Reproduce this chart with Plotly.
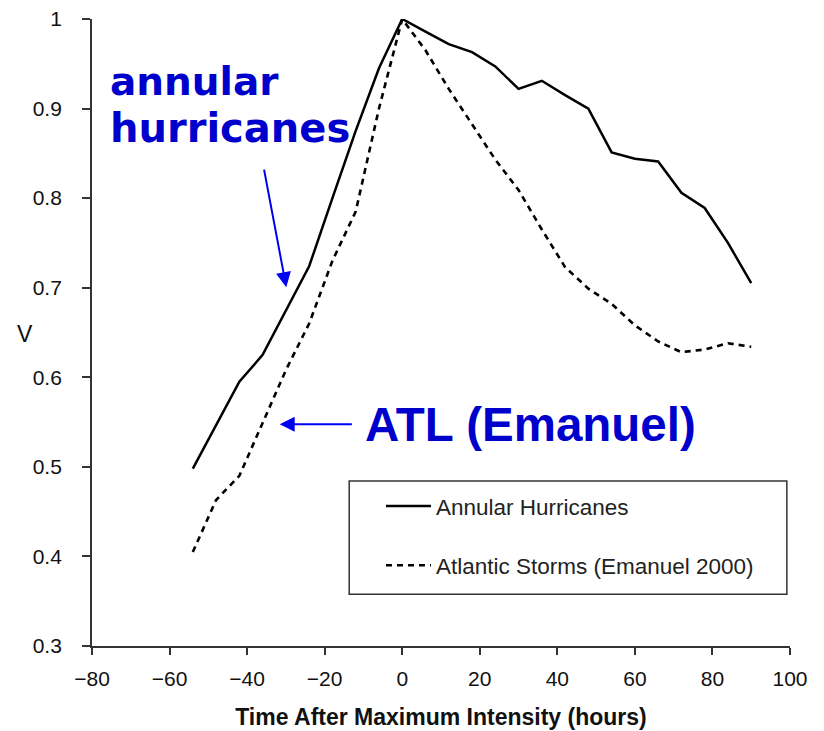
import plotly.graph_objects as go

hours = [-54, -48, -42, -36, -30, -24, -18, -12, -6, 0, 6, 12, 18, 24, 30, 36, 42, 48, 54, 60, 66, 72, 78, 84, 90]
annular = [0.498, 0.547, 0.595, 0.625, 0.675, 0.724, 0.80, 0.875, 0.945, 1.0, 0.986, 0.972, 0.963, 0.947,
           0.922, 0.931, 0.915, 0.90, 0.851, 0.844, 0.841, 0.806, 0.789, 0.75, 0.705]
atlantic = [0.405, 0.463, 0.49, 0.548, 0.608, 0.66, 0.73, 0.785, 0.90, 1.0, 0.965, 0.922, 0.883, 0.843,
            0.809, 0.765, 0.723, 0.699, 0.682, 0.658, 0.64, 0.628, 0.631, 0.638, 0.634]
names = ["Annular Hurricanes", "Atlantic Storms (Emanuel 2000)"]
x_ticks = [-80, -60, -40, -20, 0, 20, 40, 60, 80, 100]
y_ticks = [0.3, 0.4, 0.5, 0.6, 0.7, 0.8, 0.9, 1.0]

FONT = "Liberation Sans, Arial, sans-serif"
AX = "#333333"

fig = go.Figure()
fig.add_trace(go.Scatter(x=hours, y=annular, mode="lines", name=names[0], legendgroup="a",
                         line=dict(color="black", width=2.5)))
fig.add_trace(go.Scatter(x=hours, y=atlantic, mode="lines", name=names[1], legendgroup="b",
                         line=dict(color="black", width=2.6, dash="6px,5px")))

fig.update_layout(
    width=824, height=731,
    margin=dict(l=92, r=34, t=19, b=85, autoexpand=False),
    paper_bgcolor="white", plot_bgcolor="white",
    font=dict(family=FONT, size=20, color="#111111"),
    showlegend=True,
    legend=dict(x=0.414, y=0.257, xanchor="left", yanchor="top",
                bgcolor="rgba(0,0,0,0)", borderwidth=0,
                font=dict(family=FONT, size=22.5, color="#222222"),
                traceorder="grouped", tracegroupgap=27, itemwidth=45),
    xaxis=dict(range=[-80, 100], tickvals=x_ticks, showgrid=False, zeroline=False,
               automargin=False,
               showline=True, linecolor=AX, linewidth=2, ticks="outside", ticklen=7,
               tickcolor=AX, tickwidth=1.5, tickfont=dict(size=21, color="#111111"),
               ticklabelstandoff=6,
               title=dict(text="<b>Time After Maximum Intensity (hours)</b>",
                          font=dict(size=23, color="#111111"), standoff=20)),
    yaxis=dict(range=[0.3, 1.0], tickvals=y_ticks, showgrid=False, zeroline=False,
               automargin=False,
               showline=True, linecolor=AX, linewidth=1.8, ticks="outside", ticklen=8,
               tickcolor=AX, tickwidth=1.5, tickfont=dict(size=21, color="#111111"),
               ticklabelstandoff=16),
    shapes=[dict(type="rect", xref="paper", yref="paper",
                 x0=0.3685, x1=0.9955, y0=0.0824, y1=0.2633,
                 line=dict(color="#333333", width=1.5), fillcolor="rgba(0,0,0,0)")],
)

BLUE_T = "#0000CC"
BLUE_A = "#0000F0"
fig.add_annotation(x=-76.0, y=0.930, xref="x", yref="y", xanchor="left", yanchor="middle",
                   text="<b>annular</b>", showarrow=False,
                   font=dict(family="DejaVu Sans", size=39, color=BLUE_T))
fig.add_annotation(x=-76.0, y=0.878, xref="x", yref="y", xanchor="left", yanchor="middle",
                   text="<b>hurricanes</b>", showarrow=False,
                   font=dict(family="DejaVu Sans", size=40, color=BLUE_T))
fig.add_annotation(x=-10.2, y=0.547, xref="x", yref="y", xanchor="left", yanchor="middle",
                   text="<b>ATL (Emanuel)</b>", showarrow=False,
                   font=dict(family=FONT, size=47.5, color=BLUE_T))
fig.add_annotation(x=-29.9, y=0.7006, ax=-35.7, ay=0.8335, xref="x", yref="y",
                   axref="x", ayref="y", text="", showarrow=True, arrowhead=2,
                   arrowsize=1.5, arrowwidth=2, arrowcolor=BLUE_A, standoff=0)
fig.add_annotation(x=-31.6, y=0.5475, ax=-12.6, ay=0.5475, xref="x", yref="y",
                   axref="x", ayref="y", text="", showarrow=True, arrowhead=2,
                   arrowsize=1.5, arrowwidth=2, arrowcolor=BLUE_A, standoff=0)
fig.add_annotation(x=-0.0955, y=0.498, xref="paper", yref="paper", text="V", showarrow=False,
                   xanchor="center", yanchor="middle",
                   font=dict(family=FONT, size=23, color="#111111"))

fig.write_html("out.html")
